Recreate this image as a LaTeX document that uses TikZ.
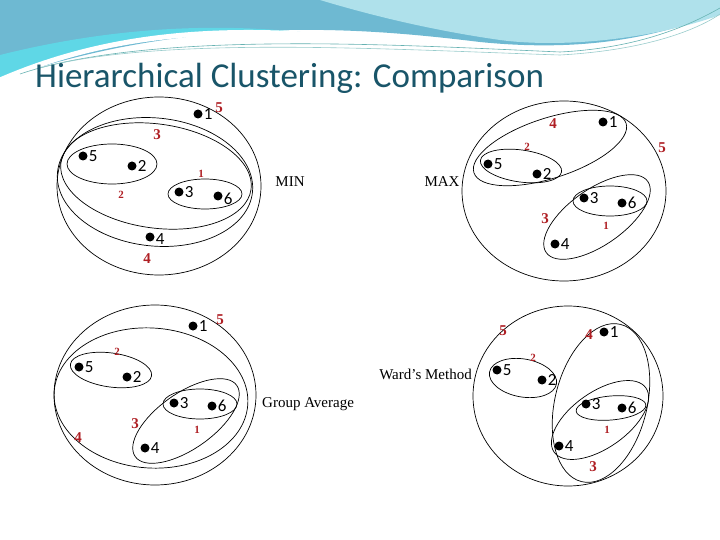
\documentclass[tikz,border=0pt]{standalone}
\usepackage{fontspec}
\setmainfont{Liberation Serif}
\newfontfamily\calib{Carlito}
\definecolor{bandA}{RGB}{110,185,210}
\definecolor{bandB}{RGB}{175,225,235}
\definecolor{bandC}{RGB}{95,215,230}
\definecolor{redl}{RGB}{175,30,35}
\begin{document}
\begin{tikzpicture}[x=1pt,y=-1pt,
  dot/.style={circle,fill=black,inner sep=0pt,minimum size=9pt},
  num/.style={font=\calib\fontsize{17}{17}\selectfont,inner sep=1pt},
  rl/.style={text=redl,font=\bfseries\fontsize{15}{15}\selectfont,inner sep=0pt},
  rs/.style={text=redl,font=\bfseries\fontsize{11}{11}\selectfont,inner sep=0pt},
  mlab/.style={font=\fontsize{15}{15}\selectfont,inner sep=0pt},
  ring/.style={draw=black,line width=0.7pt}]
\useasboundingbox (0,0) rectangle (720,540);
\fill[white] (0,0) rectangle (720,540);
% banner
\fill[bandA] (0,0) -- (720,0) -- (720,12) .. controls (640,45) and (560,50) .. (480,42) .. controls (380,30) and (200,10) .. (0,80) -- cycle;
\fill[bandB] (320,0) -- (720,0) -- (720,15) .. controls (650,40) and (560,48) .. (500,40) .. controls (430,30) and (370,15) .. (320,0) -- cycle;
\fill[bandC] (0,55) .. controls (100,30) and (200,22) .. (300,32) .. controls (200,28) and (100,40) .. (0,80) -- cycle;
\draw[white,line width=5pt] (0,80) .. controls (120,28) and (250,22) .. (420,46);
\draw[teal!60,line width=0.6pt] (20,74) .. controls (150,30) and (400,45) .. (560,52) .. controls (640,48) and (690,25) .. (720,8);
\draw[teal!40,line width=0.6pt] (40,68) .. controls (160,35) and (400,50) .. (560,55) .. controls (650,50) and (700,28) .. (720,14);
\node[anchor=base west,text={rgb,255:red,25;green,85;blue,105},font=\calib\fontsize{35}{35}\selectfont,inner sep=0pt] (title) at (35,88) {Hierarchical Clustering: Comparison};

% ---------- MIN ----------
\draw[ring] (159,186) ellipse [x radius=102,y radius=89];
\draw[ring,rotate around={-6:(155,182)}] (155,182) ellipse [x radius=98,y radius=64];
\draw[ring,rotate around={-8:(156,176)}] (156,176) ellipse [x radius=96,y radius=52];
\draw[ring] (112,164) ellipse [x radius=45,y radius=20];
\draw[ring] (205,194) ellipse [x radius=37,y radius=15];
\node[dot] (a1) at (198,114) {}; \node[num,anchor=west] at (a1.east) {1};
\node[dot] (a5) at (83,156) {}; \node[num,anchor=west] at (a5.east) {5};
\node[dot] (a2) at (132,166) {}; \node[num,anchor=west] at (a2.east) {2};
\node[dot] (a3) at (179,192) {}; \node[num,anchor=west] at (a3.east) {3};
\node[dot] (a6) at (218,196) {}; \node[num,anchor=west] at ([yshift=-3pt]a6.east) {6};
\node[dot] (a4) at (150,237) {}; \node[num,anchor=west] at ([yshift=-2pt]a4.east) {4};
\node[rl] at (219,108) {5};
\node[rl] at (157,135) {3};
\node[rs] at (121,195) {2};
\node[rs] at (201,174) {1};
\node[rl] at (147,259) {4};
\node[mlab] (minl) at (290,182) {MIN};

% ---------- MAX ----------
\draw[ring] (564,191) ellipse [x radius=102,y radius=90];
\draw[ring,rotate around={18:(550,148)}] (550,148) ellipse [x radius=80,y radius=30];
\draw[ring,rotate around={-8:(521,166)}] (521,166) ellipse [x radius=41,y radius=16];
\draw[ring,rotate around={35:(597,217)}] (597,217) ellipse [x radius=62,y radius=28];
\draw[ring] (610,201) ellipse [x radius=37,y radius=15];
\node[dot] (b1) at (603,122) {}; \node[num,anchor=west] at (b1.east) {1};
\node[dot] (b5) at (488,164) {}; \node[num,anchor=west] at (b5.east) {5};
\node[dot] (b2) at (537,174) {}; \node[num,anchor=west] at (b2.east) {2};
\node[dot] (b3) at (584,198) {}; \node[num,anchor=west] at (b3.east) {3};
\node[dot] (b6) at (622,203) {}; \node[num,anchor=west] at (b6.east) {6};
\node[dot] (b4) at (555,244) {}; \node[num,anchor=west] at (b4.east) {4};
\node[rl] at (553,124) {4};
\node[rs] at (527,147) {2};
\node[rl] at (662,148) {5};
\node[rl] at (545,219) {3};
\node[rs] at (606,226) {1};
\node[mlab] (maxl) at (442,182) {MAX};

% ---------- Group Average ----------
\draw[ring] (155,395) ellipse [x radius=101,y radius=90];
\draw[ring,rotate around={-4:(151,398)}] (151,398) ellipse [x radius=97,y radius=70];
\draw[ring,rotate around={-8:(111,370)}] (111,370) ellipse [x radius=41,y radius=17];
\draw[ring,rotate around={35:(186,421)}] (186,421) ellipse [x radius=62,y radius=28];
\draw[ring] (200,404) ellipse [x radius=37,y radius=15];
\node[dot] (c1) at (193,326) {}; \node[num,anchor=west] at (c1.east) {1};
\node[dot] (c5) at (79,367) {}; \node[num,anchor=west] at (c5.east) {5};
\node[dot] (c2) at (127,377) {}; \node[num,anchor=west] at (c2.east) {2};
\node[dot] (c3) at (174,403) {}; \node[num,anchor=west] at (c3.east) {3};
\node[dot] (c6) at (212,406) {}; \node[num,anchor=west] at (c6.east) {6};
\node[dot] (c4) at (145,448) {}; \node[num,anchor=west] at (c4.east) {4};
\node[rl] at (220,320) {5};
\node[rs] at (117,352) {2};
\node[rl] at (135,424) {3};
\node[rs] at (197,430) {1};
\node[rl] at (78,438) {4};
\node[mlab,anchor=west] (gal) at (262,404) {Group Average};

% ---------- Ward ----------
\draw[ring] (568,396) ellipse [x radius=95,y radius=90];
\draw[ring,rotate around={76:(601,403)}] (601,403) ellipse [x radius=81,y radius=46];
\draw[ring,rotate around={35:(600,420)}] (600,420) ellipse [x radius=56,y radius=28];
\draw[ring,rotate around={5:(611,408)}] (611,408) ellipse [x radius=35,y radius=12];
\draw[ring,rotate around={-10:(523,378)}] (523,378) ellipse [x radius=34,y radius=19];
\node[dot] (d1) at (604,332) {}; \node[num,anchor=west] at (d1.east) {1};
\node[dot] (d5) at (497,370) {}; \node[num,anchor=west] at (d5.east) {5};
\node[dot] (d2) at (542,380) {}; \node[num,anchor=west] at (d2.east) {2};
\node[dot] (d3) at (586,404) {}; \node[num,anchor=west] at (d3.east) {3};
\node[dot] (d6) at (622,408) {}; \node[num,anchor=west] at (d6.east) {6};
\node[dot] (d4) at (559,446) {}; \node[num,anchor=west] at (d4.east) {4};
\node[rl] at (503,331) {5};
\node[rl] at (589,335) {4};
\node[rs] at (533,358) {2};
\node[rs] at (607,430) {1};
\node[rl] at (593,467) {3};
\node[mlab,anchor=east] (wl) at (472,374) {Ward's Method};
\end{tikzpicture}
\end{document}
